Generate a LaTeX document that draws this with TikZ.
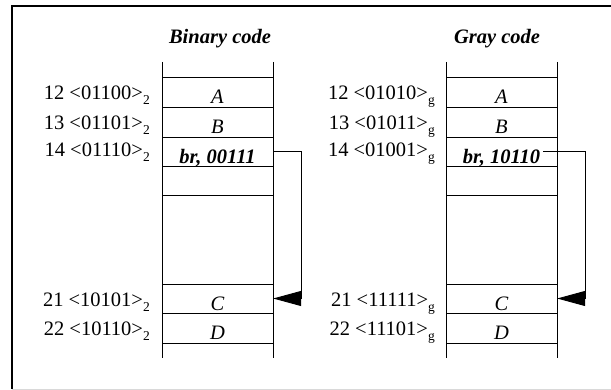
\documentclass[tikz,border=0pt]{standalone}
\usepackage{fontspec}
\setmainfont{Liberation Serif}
\usepackage{tikz}
\usetikzlibrary{positioning, arrows.meta}

% lowered index after an address
\newcommand{\lowsub}[1]{\raisebox{-4.5pt}{\fontsize{13.5}{13.5}\selectfont #1}}

\begin{document}
\begin{tikzpicture}[x=1pt, y=-1pt,
    every node/.style={font=\fontsize{20.5}{24}\selectfont},
    cell/.style={minimum width=111pt, minimum height=29.5pt, inner sep=0pt,
                 text height=24pt, text depth=0pt},
    addr/.style={anchor=base east, inner sep=0pt},
    title/.style={anchor=base, inner sep=0pt, font=\fontsize{20.5}{24}\selectfont\bfseries\itshape},
    jump/.style={line width=0.9pt, -{Triangle[length=28pt, width=15pt]}}]
    \useasboundingbox (0,0) rectangle (611,390);

    % frame
    \draw[line width=1.3pt] (12,389) -- (12,6) -- (611,6);
    \draw[black!15, line width=1pt] (12,389) -- (611,389);

    % the two memory columns
    \foreach \x in {162, 446} {
        \draw[line width=0.9pt] (\x,62) -- (\x,358);
        \draw[line width=0.9pt] (\x+111,62) -- (\x+111,358);
        \foreach \y in {77, 107, 137, 166, 195, 284, 313, 343}
            \draw[line width=0.9pt] (\x,\y) -- (\x+111,\y);
    }

    % binary code
    \node[title] (binTitle) at (220,44) {Binary code};
    \node[cell] (binA) at (217.5,92) {\itshape A};
    \node[cell] (binB) at (217.5,122) {\itshape B};
    \node[cell] (binBr) at (217.5,151.5) {\bfseries\itshape br, 00111};
    \node[cell] (binC) at (217.5,298.5) {\itshape C};
    \node[cell] (binD) at (217.5,328) {\itshape D};
    \node[addr] (binL12) at (150,100) {12 <01100>\lowsub{2}};
    \node[addr] (binL13) at (150,130) {13 <01101>\lowsub{2}};
    \node[addr] (binL14) at (150,157) {14 <01110>\lowsub{2}};
    \node[addr] (binL21) at (150,307) {21 <10101>\lowsub{2}};
    \node[addr] (binL22) at (150,336) {22 <10110>\lowsub{2}};
    \draw[jump] (binBr.east) -- ([xshift=28pt]binBr.east) |- (binC.east);

    % gray code
    \node[title] (grayTitle) at (497,44) {Gray code};
    \node[cell] (grayA) at (501.5,92) {\itshape A};
    \node[cell] (grayB) at (501.5,122) {\itshape B};
    \node[cell] (grayBr) at (501.5,151.5) {\bfseries\itshape br, 10110};
    \node[cell] (grayC) at (501.5,298.5) {\itshape C};
    \node[cell] (grayD) at (501.5,328) {\itshape D};
    \node[addr] (grayL12) at (435,100) {12 <01010>\lowsub{g}};
    \node[addr] (grayL13) at (435,130) {13 <01011>\lowsub{g}};
    \node[addr] (grayL14) at (435,157) {14 <01001>\lowsub{g}};
    \node[addr] (grayL21) at (435,307) {21 <11111>\lowsub{g}};
    \node[addr] (grayL22) at (435,336) {22 <11101>\lowsub{g}};
    \draw[jump] ([xshift=-14pt]grayBr.east) -- ([xshift=28pt]grayBr.east) |- (grayC.east);
\end{tikzpicture}
\end{document}
